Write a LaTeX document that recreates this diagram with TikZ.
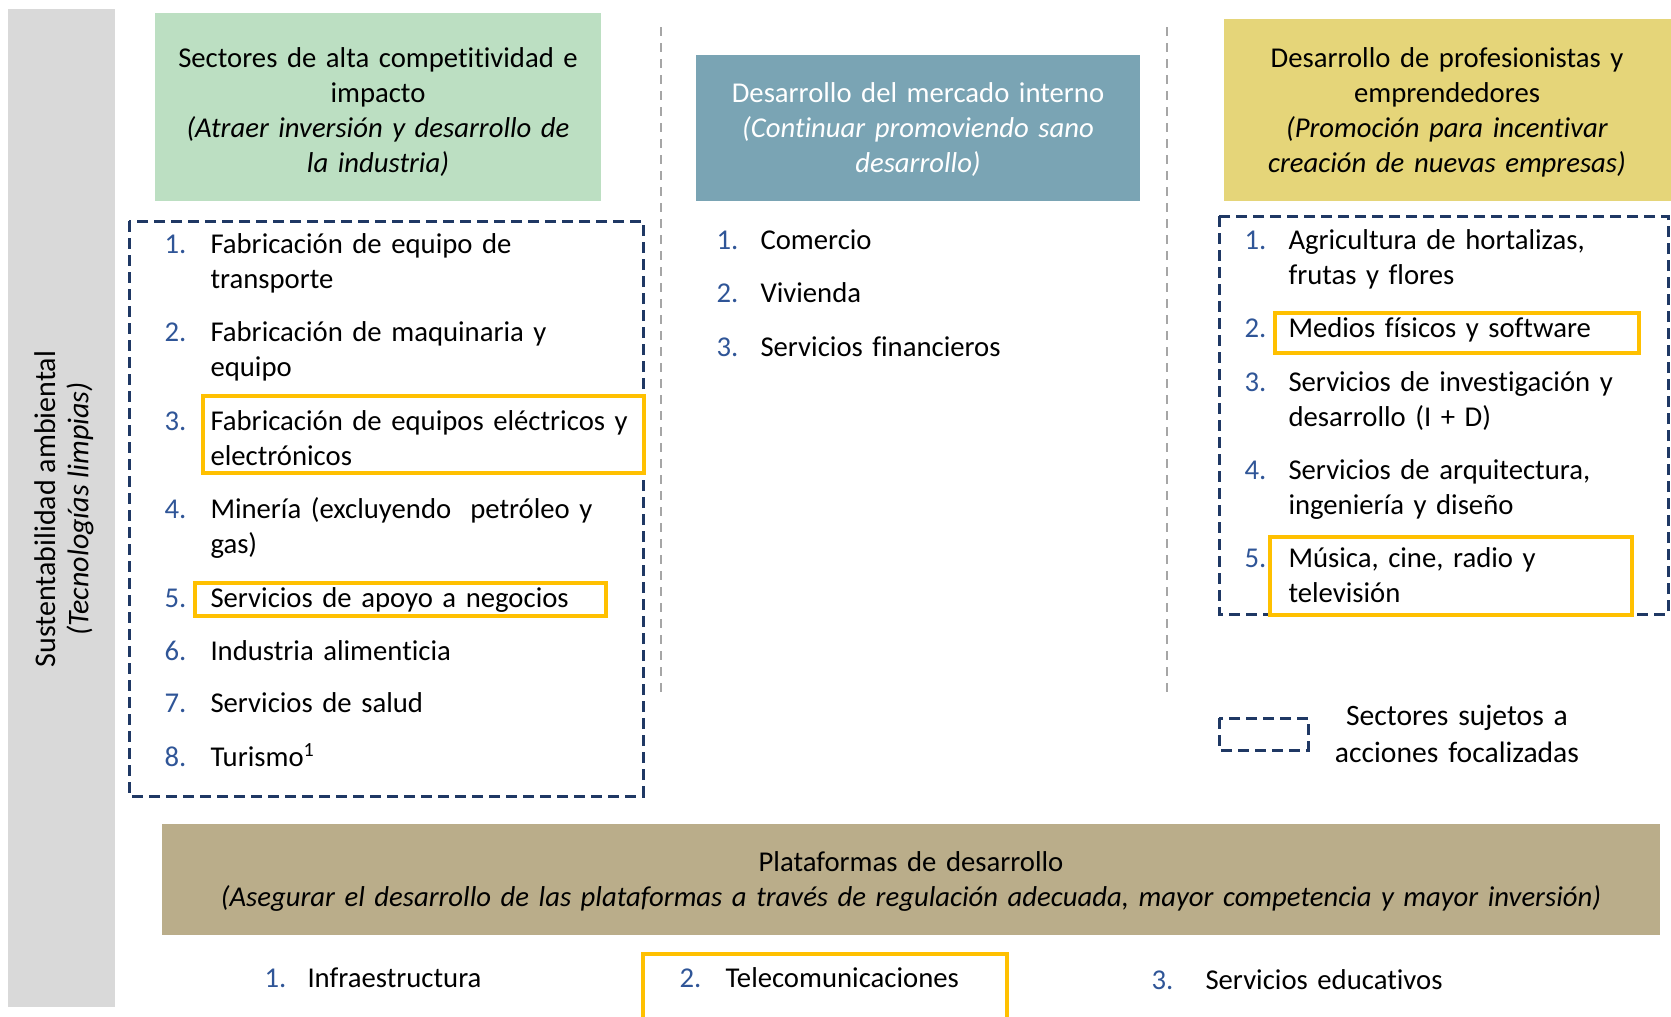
\documentclass[tikz,border=0pt]{standalone}
\usepackage{fontspec}
\setmainfont[Ligatures=NoCommon]{Carlito}

\definecolor{verde}{RGB}{188,223,194}
\definecolor{azulgris}{RGB}{122,164,180}
\definecolor{amarillo}{RGB}{229,213,121}
\definecolor{arena}{RGB}{186,173,138}
\definecolor{grisbarra}{RGB}{217,217,217}
\definecolor{marino}{RGB}{31,56,100}
\definecolor{naranja}{RGB}{255,192,0}
\definecolor{numazul}{RGB}{47,85,151}
\definecolor{grislinea}{RGB}{166,166,166}

\tikzset{
    num/.style={anchor=base west, inner sep=0, text=numazul},
    item/.style={anchor=base west, inner sep=0, text width=450pt, align=left},
    titulo/.style={anchor=base, inner sep=0, text width=440pt, align=center},
    foco/.style={draw=marino, line width=3, dash pattern=on 11pt off 6pt},
    resalte/.style={draw=naranja, line width=4},
    columna/.style={draw=grislinea, line width=2, dash pattern=on 9pt off 7pt},
}

\begin{document}
\begin{tikzpicture}[
            x=1pt, y=-1pt, line width=1,
            font=\fontsize{28.7}{35}\selectfont
        ]
            \useasboundingbox (0,0) rectangle (1671,1017);

            % fondos
            \fill[grisbarra] (8,9) rectangle (115,1007);
            \fill[verde] (155,13) rectangle (601,201);
            \fill[azulgris] (696,55) rectangle (1140,201);
            \fill[amarillo] (1224,19) rectangle (1671,201);
            \fill[arena] (162,824) rectangle (1660,935);

            % columnas
            \coordinate(c1a) at (661,27);
            \coordinate(c1b) at (661,696);
            \coordinate(c2a) at (1167,27);
            \coordinate(c2b) at (1167,696);
            \draw[columna] (c1a) -- (c1b);
            \draw[columna] (c2a) -- (c2b);

            % acciones focalizadas
            \draw[foco] (129,221) rectangle (643,796);
            \draw[foco] (1219,216) rectangle (1668,614);
            \draw[foco] (1219,718) rectangle (1308,750);

            % resaltados
            \draw[resalte] (203,396) rectangle (644,473);
            \draw[resalte] (195,583) rectangle (606,616);
            \draw[resalte] (1275,313) rectangle (1639,353);
            \draw[resalte] (1270,537) rectangle (1632,615);
            \draw[resalte] (643,1017) -- (643,954) -- (1007,954) -- (1007,1017);

            % eje transversal
            \node[rotate=90, font=\fontsize{30}{35}\selectfont] (sust) at (45,509) {Sustentabilidad ambiental};
            \node[rotate=90, font=\fontsize{30}{35}\selectfont\itshape] (tecno) at (80,509) {(Tecnologías limpias)};

            % encabezados
            \node[titulo] (alta) at (378,67)
                {Sectores de alta competitividad e\\impacto\\\textit{(Atraer inversión y desarrollo de}\\\textit{la industria)}};
            \node[titulo, text=white] (interno) at (918,102)
                {Desarrollo del mercado interno\\\textit{(Continuar promoviendo sano}\\\textit{desarrollo)}};
            \node[titulo] (profes) at (1447,67)
                {Desarrollo de profesionistas y\\emprendedores\\\textit{(Promoción para incentivar}\\\textit{creación de nuevas empresas)}};

            % sectores de alta competitividad
            \node[num] (a1n) at (164,253) {1.};
            \node[item] (a1) at (210,253) {Fabricación de equipo de\\transporte};
            \node[num] (a2n) at (164,341) {2.};
            \node[item] (a2) at (210,341) {Fabricación de maquinaria y\\equipo};
            \node[num] (a3n) at (164,430) {3.};
            \node[item] (a3) at (210,430) {Fabricación de equipos eléctricos y\\electrónicos};
            \node[num] (a4n) at (164,518) {4.};
            \node[item] (a4) at (210,518) {Minería (excluyendo\ \ petróleo y\\gas)};
            \node[num] (a5n) at (164,607) {5.};
            \node[item] (a5) at (210,607) {Servicios de apoyo a negocios};
            \node[num] (a6n) at (164,660) {6.};
            \node[item] (a6) at (210,660) {Industria alimenticia};
            \node[num] (a7n) at (164,712) {7.};
            \node[item] (a7) at (210,712) {Servicios de salud};
            \node[num] (a8n) at (164,766) {8.};
            \node[item] (a8) at (210,766) {Turismo\textsuperscript{1}};

            % mercado interno
            \node[num] (m1n) at (716,249) {1.};
            \node[item] (m1) at (760,249) {Comercio};
            \node[num] (m2n) at (716,302) {2.};
            \node[item] (m2) at (760,302) {Vivienda};
            \node[num] (m3n) at (716,356) {3.};
            \node[item] (m3) at (760,356) {Servicios financieros};

            % profesionistas y emprendedores
            \node[num] (p1n) at (1244,249) {1.};
            \node[item] (p1) at (1288,249) {Agricultura de hortalizas,\\frutas y flores};
            \node[num] (p2n) at (1244,337) {2.};
            \node[item] (p2) at (1288,337) {Medios físicos y software};
            \node[num] (p3n) at (1244,391) {3.};
            \node[item] (p3) at (1288,391) {Servicios de investigación y\\desarrollo (I + D)};
            \node[num] (p4n) at (1244,479) {4.};
            \node[item] (p4) at (1288,479) {Servicios de arquitectura,\\ingeniería y diseño};
            \node[num] (p5n) at (1244,567) {5.};
            \node[item] (p5) at (1288,567) {Música, cine, radio y\\televisión};

            % leyenda
            \node[titulo, text width=300pt, font=\fontsize{29.6}{37}\selectfont] (leyenda) at (1457,725)
                {Sectores sujetos a\\acciones focalizadas};

            % plataformas
            \node[titulo, text width=1480pt] (plataf) at (911,871)
                {Plataformas de desarrollo\\\textit{(Asegurar el desarrollo de las plataformas a través de regulación adecuada, mayor competencia y mayor inversión)}};

            \node[num] (b1n) at (264,987) {1.};
            \node[item, text width=250pt] (b1) at (307,987) {Infraestructura};
            \node[num] (b2n) at (679,987) {2.};
            \node[item, text width=250pt] (b2) at (725,987) {Telecomunicaciones};
            \node[num] (b3n) at (1151,989) {3.};
            \node[item, text width=250pt] (b3) at (1205,989) {Servicios educativos};

        \end{tikzpicture}
\end{document}
